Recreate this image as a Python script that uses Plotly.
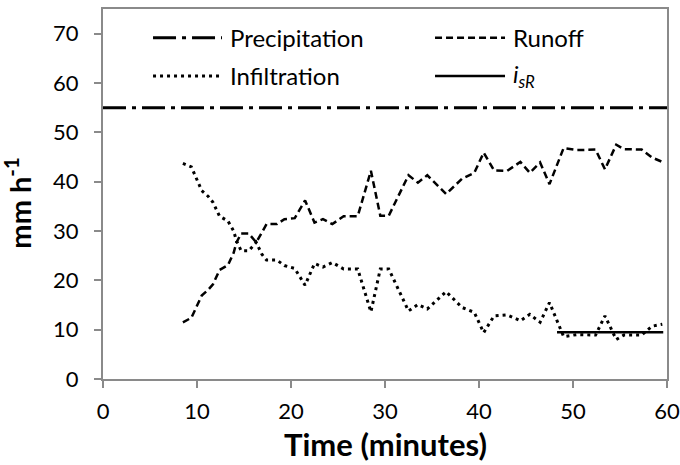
import plotly.graph_objects as go

# ---- data ----
time_min = [8.5, 9.4, 10.5, 11.2, 11.7, 12.4, 13.3, 13.9, 14.2, 14.7, 15.5, 16.3, 16.9, 17.4,
            18.5, 19.3, 20.4, 21.5, 22.5, 23.4, 24.4, 25.6, 26.3, 27.1, 28.5, 29.5, 30.4,
            32.5, 33.5, 34.5, 36.5, 38.2, 39.5, 40.5, 41.6, 43.0, 44.4, 45.4, 46.5, 47.5,
            49.0, 50.4, 52.4, 53.4, 54.6, 55.4, 57.3, 58.4, 59.5]
runoff = [11.5, 12.4, 16.9, 18.1, 19.2, 22.1, 23.1, 25.6, 27.7, 29.5, 29.5, 27.7, 29.7, 31.4,
          31.4, 32.4, 32.6, 36.2, 31.7, 32.4, 31.4, 33.0, 33.0, 33.0, 42.2, 33.1, 33.1,
          41.3, 39.8, 41.3, 37.5, 40.6, 41.8, 45.9, 42.3, 42.2, 44.0, 41.8, 43.9, 39.5,
          46.8, 46.4, 46.5, 42.5, 47.5, 46.6, 46.5, 44.9, 44.0]
infiltration = [43.7, 43.0, 38.2, 37.0, 35.8, 33.0, 32.0, 30.0, 28.0, 26.0, 26.0, 27.7, 25.3, 24.1,
                24.1, 23.0, 22.4, 19.0, 23.4, 22.7, 23.6, 22.3, 22.3, 22.3, 13.6, 22.3, 22.3,
                13.8, 15.1, 14.2, 17.7, 14.5, 13.5, 9.4, 12.8, 13.0, 11.8, 13.1, 11.5, 15.5,
                8.6, 9.0, 8.9, 12.8, 8.0, 8.9, 8.9, 10.7, 11.1]
precip_time = [0, 60]
precipitation = [55, 55]
isr_time = [48.3, 59.6]
isr = [9.5, 9.5]

x_ticks = [0, 10, 20, 30, 40, 50, 60]
y_ticks = [0, 10, 20, 30, 40, 50, 60, 70]

FONT = "Lato"
PRECIP_DASH = "23px,6px,4px,6px"
RUNOFF_DASH = "7px,4px"
INFIL_DASH = "3px,4px"

fig = go.Figure()
fig.add_trace(go.Scatter(x=precip_time, y=precipitation, mode="lines", name="Precipitation",
                         line=dict(color="black", width=3, dash=PRECIP_DASH)))
fig.add_trace(go.Scatter(x=time_min, y=runoff, mode="lines", name="Runoff",
                         line=dict(color="black", width=2.5, dash=RUNOFF_DASH)))
fig.add_trace(go.Scatter(x=time_min, y=infiltration, mode="lines", name="Infiltration",
                         line=dict(color="black", width=3, dash=INFIL_DASH)))
fig.add_trace(go.Scatter(x=isr_time, y=isr, mode="lines", name="i<sub>sR</sub>",
                         line=dict(color="black", width=2.5)))

# ---- legend drawn as key lines + labels (two columns) ----
legend_items = [
    ("Precipitation", PRECIP_DASH, 3, 0.0887, 0.211, 0.922),
    ("Runoff", RUNOFF_DASH, 2.5, 0.5887, 0.7128, 0.922),
    ("Infiltration", INFIL_DASH, 3, 0.0887, 0.211, 0.819),
    ("<i>i</i><sub><i>sR</i></sub>", "solid", 2.5, 0.5887, 0.7128, 0.819),
]
for label, dash, w, x0, x1, yy in legend_items:
    fig.add_shape(type="line", xref="paper", yref="paper", x0=x0, x1=x1, y0=yy, y1=yy,
                  line=dict(color="black", width=w, dash=dash))
    fig.add_annotation(xref="paper", yref="paper", x=x1 + 0.010, y=yy, text=label,
                       showarrow=False, xanchor="left", yanchor="middle",
                       font=dict(family=FONT, size=24, color="black"))

fig.add_annotation(xref="paper", yref="paper", x=-0.150, y=0.475, text="<b>mm h<sup>-1</sup></b>",
                   textangle=-90, showarrow=False, xanchor="center", yanchor="middle",
                   font=dict(family=FONT, size=29, color="black"))
fig.add_annotation(xref="paper", yref="paper", x=0.5, y=-0.177, text="<b>Time (minutes)</b>",
                   showarrow=False, xanchor="center", yanchor="middle",
                   font=dict(family=FONT, size=31, color="black"))

axis_common = dict(showgrid=False, zeroline=False, showline=True, linecolor="#8a8a8a",
                   linewidth=2, mirror=True, ticks="outside", ticklen=7, tickwidth=1.5,
                   tickcolor="#8a8a8a", automargin=False,
                   tickfont=dict(family=FONT, size=22, color="black"))
fig.update_xaxes(range=[0, 60], tickvals=x_ticks, ticklabelstandoff=5, **axis_common)
fig.update_yaxes(range=[0, 75], tickvals=y_ticks, ticklabelstandoff=11, **axis_common)

fig.update_layout(width=680, height=465, showlegend=False,
                  margin=dict(l=103, r=13, t=9, b=86, autoexpand=False),
                  paper_bgcolor="white", plot_bgcolor="white",
                  font=dict(family=FONT))
fig.write_html("out.html", config={"displayModeBar": False},
               post_script="document.body.style.margin='0';document.body.style.overflow='hidden';")
